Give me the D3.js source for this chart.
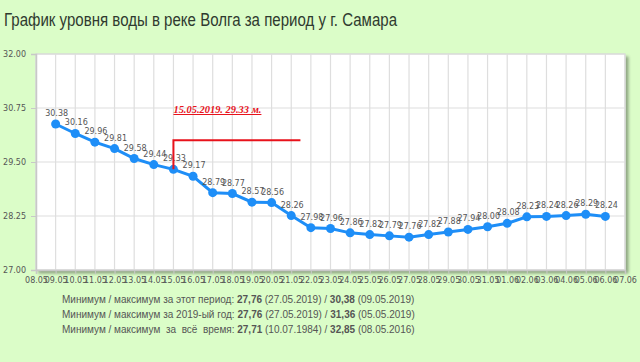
<!DOCTYPE html>
<html><head><meta charset="utf-8">
<script src="https://cdn.jsdelivr.net/npm/d3@7"></script>
<style>
html,body{margin:0;padding:0;background:#dbfdc8;}
svg{display:block;}
</style></head>
<body>
<svg id="chart" width="640" height="362"></svg>
<script>
const title = "График уровня воды в реке Волга за период у г. Самара";
const xLabels = ["08.05","09.05","10.05","11.05","12.05","13.05","14.05","15.05","16.05","17.05","18.05","19.05","20.05","21.05","22.05","23.05","24.05","25.05","26.05","27.05","28.05","29.05","30.05","31.05","01.06","02.06","03.06","04.06","05.06","06.06","07.06"];
const dates = ["09.05","10.05","11.05","12.05","13.05","14.05","15.05","16.05","17.05","18.05","19.05","20.05","21.05","22.05","23.05","24.05","25.05","26.05","27.05","28.05","29.05","30.05","31.05","01.06","02.06","03.06","04.06","05.06","06.06"];
const levels = [30.38,30.16,29.96,29.81,29.58,29.44,29.33,29.17,28.79,28.77,28.57,28.56,28.26,27.98,27.96,27.86,27.82,27.79,27.76,27.82,27.88,27.94,28.00,28.08,28.23,28.24,28.26,28.29,28.24];
const yTicks = [27.00,28.25,29.50,30.75,32.00];
const markDate = "15.05", markText = "15.05.2019.  29.33 м.";
const infoLines = [
  ["Минимум / максимум за этот период: ", "27,76", " (27.05.2019) / ", "30,38", " (09.05.2019)"],
  ["Минимум / максимум за 2019-ый год: ", "27,76", " (27.05.2019) / ", "31,36", " (05.05.2019)"],
  ["Минимум / максимум  за  всё  время: ", "27,71", " (10.07.1984) / ", "32,85", " (08.05.2016)"]
];

const svg = d3.select("#chart");
const L = 36, R = 625, T = 54, B = 270;
const x = d3.scalePoint().domain(xLabels).range([L, R]);
const y = d3.scaleLinear().domain([27, 32]).range([B, T]);

svg.append("text").attr("x", 4).attr("y", 26).attr("font-family", "Liberation Sans, Arial, sans-serif")
  .attr("font-size", 17.5).attr("fill", "#2f3a2f")
  .attr("textLength", 393).attr("lengthAdjust", "spacingAndGlyphs").text(title);

// shadow
const defs = svg.append("defs");
const f = defs.append("filter").attr("id","sh").attr("x","-5%").attr("y","-5%").attr("width","115%").attr("height","115%");
f.append("feGaussianBlur").attr("in","SourceAlpha").attr("stdDeviation",1.5);
f.append("feOffset").attr("dx",3).attr("dy",3).attr("result","b");
f.append("feComponentTransfer").append("feFuncA").attr("type","linear").attr("slope",0.35);
const m = f.append("feMerge"); m.append("feMergeNode"); m.append("feMergeNode").attr("in","SourceGraphic");
svg.append("rect").attr("x", L).attr("y", T).attr("width", R - L).attr("height", B - T)
  .attr("fill", "#fff").attr("stroke", "#cfcfcf").attr("filter","url(#sh)");

// grid
svg.append("g").selectAll("line").data(xLabels).join("line")
  .attr("x1", d => x(d)).attr("x2", d => x(d)).attr("y1", T).attr("y2", B)
  .attr("stroke", "#dedede").attr("stroke-width", 1.2);
svg.append("g").selectAll("line").data(yTicks).join("line")
  .attr("x1", L).attr("x2", R).attr("y1", d => y(d)).attr("y2", d => y(d))
  .attr("stroke", "#dedede").attr("stroke-width", 1.2);

// axes
const yAxis = d3.axisLeft(y).tickValues(yTicks).tickFormat(d3.format(".2f")).tickSize(5).tickPadding(3);
const gy = svg.append("g").attr("transform", `translate(${L},0)`).call(yAxis);
const xAxis = d3.axisBottom(x).tickSize(4).tickPadding(3);
const gx = svg.append("g").attr("transform", `translate(0,${B})`).call(xAxis);
[gx, gy].forEach(g => {
  g.select(".domain").attr("stroke", "#c8c8c8").attr("stroke-width", 1.5);
  g.selectAll(".tick line").attr("stroke", "#c8c8c8");
  g.selectAll("text").attr("font-family", "DejaVu Sans, Verdana, sans-serif").attr("font-size", 8).attr("fill", "#555");
});
gy.selectAll("text").attr("dx", -2);

// line
const pts = dates.map((d, i) => ({d, v: levels[i]}));
svg.append("path").datum(pts).attr("fill", "none").attr("stroke", "#1e8ef7").attr("stroke-width", 3)
  .attr("d", d3.line().x(p => x(p.d)).y(p => y(p.v)));
svg.append("g").selectAll("circle").data(pts).join("circle")
  .attr("cx", p => x(p.d)).attr("cy", p => y(p.v)).attr("r", 4.5).attr("fill", "#1e8ef7");
svg.append("g").selectAll("text").data(pts).join("text")
  .attr("x", p => x(p.d) + 1).attr("y", p => y(p.v) - 8).attr("text-anchor", "middle")
  .attr("font-family", "DejaVu Sans, Verdana, sans-serif").attr("font-size", 8).attr("fill", "#555")
  .text(p => p.v.toFixed(2));

// annotation
const mv = levels[dates.indexOf(markDate)];
const mx = x(markDate), my = y(mv);
svg.append("path").attr("fill", "none").attr("stroke", "#e8121b").attr("stroke-width", 2)
  .attr("d", `M${mx},${my}V${my - 29}H${mx + 127}`);
svg.append("text").attr("x", mx).attr("y", 113).attr("font-family", "Liberation Serif, Times New Roman, serif")
  .attr("font-size", 10).attr("font-weight", "bold").attr("font-style", "italic")
  .attr("textLength", 88).attr("lengthAdjust", "spacingAndGlyphs")
  .attr("text-decoration", "underline").attr("fill", "#e8121b").text(markText);

// info lines
const info = svg.append("g").attr("font-family", "Liberation Sans, Arial, sans-serif").attr("font-size", 10).attr("fill", "#555");
infoLines.forEach((parts, i) => {
  const t = info.append("text").attr("x", 62).attr("y", 303 + i * 15).attr("xml:space", "preserve");
  parts.forEach((p, j) => t.append("tspan").attr("font-weight", j % 2 ? "bold" : "normal").text(p));
});
</script>
</body></html>
